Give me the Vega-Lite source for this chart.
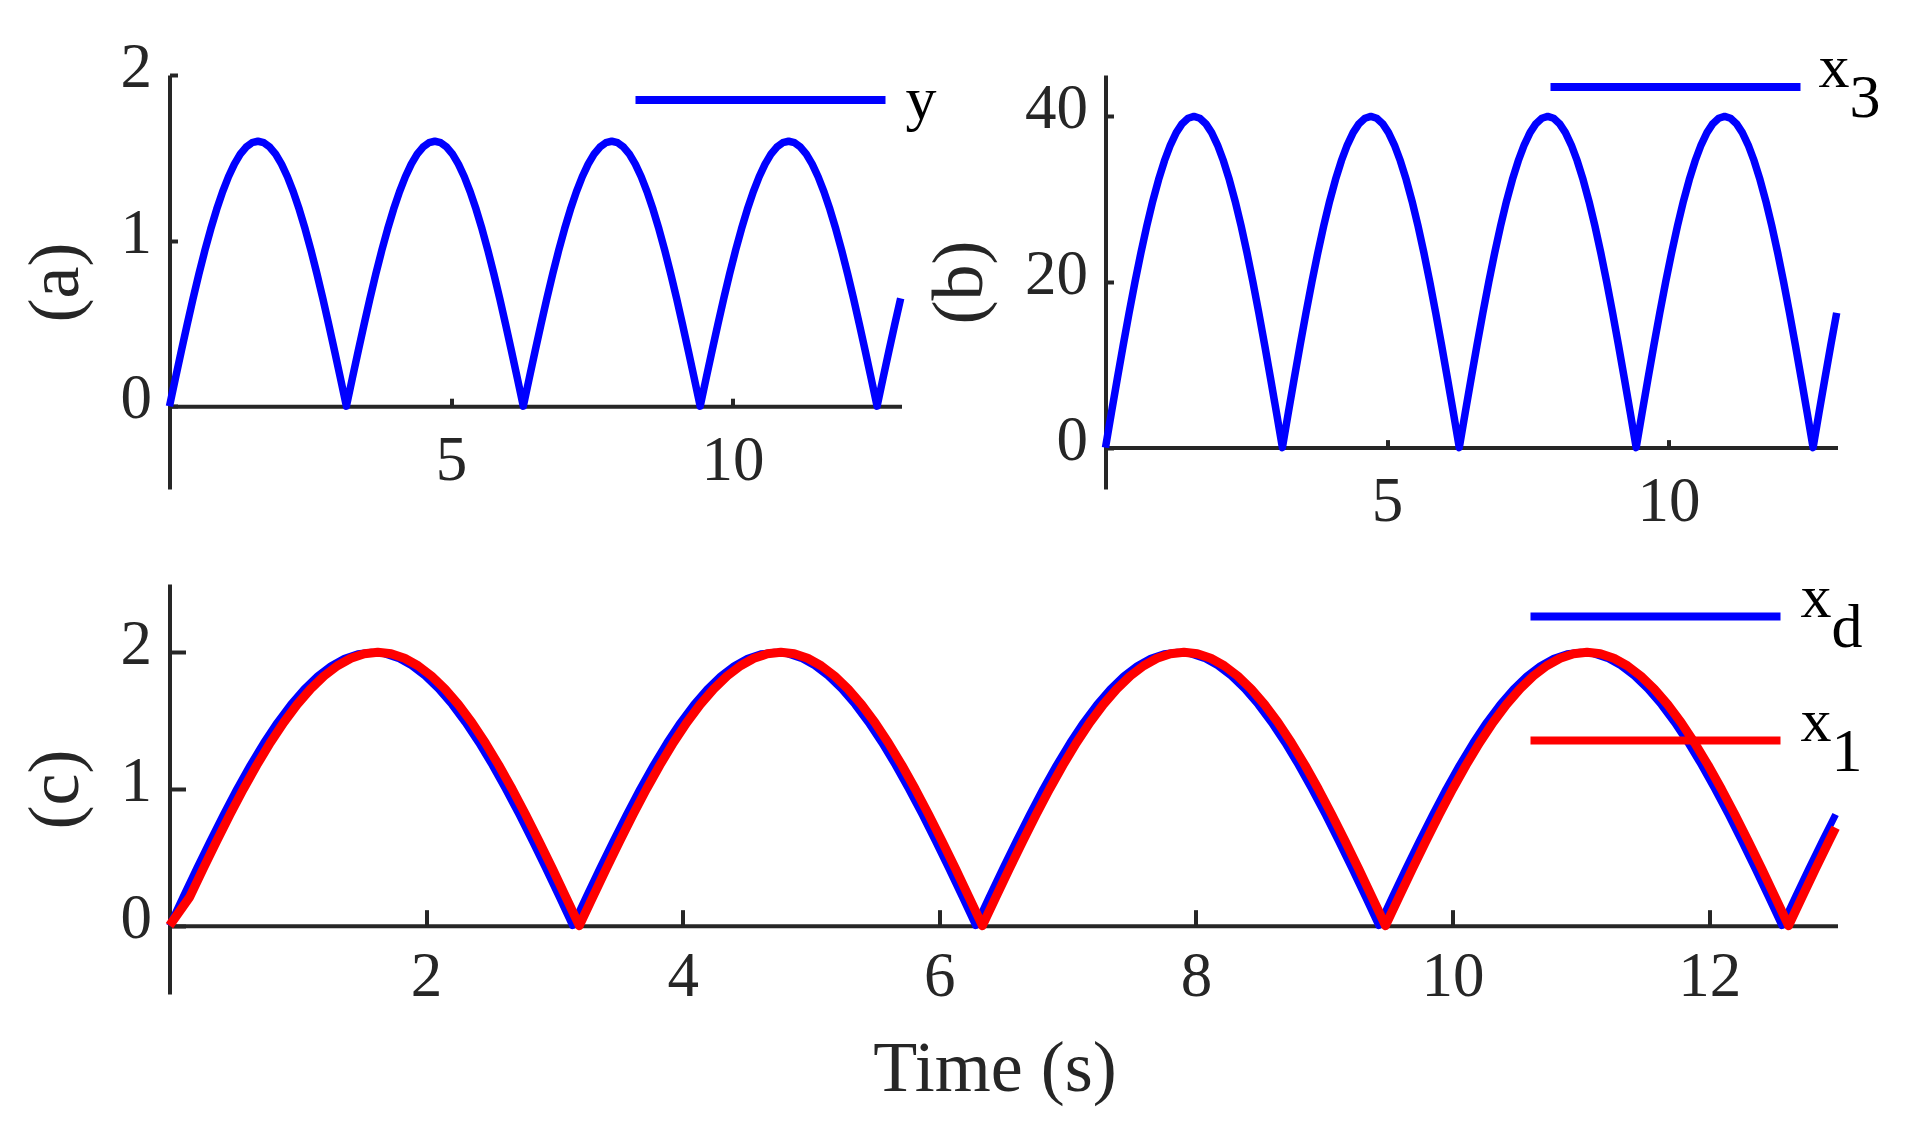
{
"$schema": "https://vega.github.io/schema/vega-lite/v6.json",
"padding": {"left": 18.5, "top": 36, "right": 5, "bottom": 5},
"spacing": 50,
"config": {
  "view": {"stroke": null},
  "font": "Liberation Serif",
  "axis": {"grid": false, "zindex": 0, "format": "d", "domainColor": "#262626", "domainWidth": 4, "tickColor": "#262626", "tickWidth": 4, "labelColor": "#262626", "titleColor": "#262626", "labelFont": "Liberation Serif", "titleFont": "Liberation Serif", "labelFontSize": 63, "titleFontSize": 72, "titleFontWeight": "normal", "labelFlush": false, "labelOverlap": false},
  "legend": {"labelFont": "Liberation Serif", "labelFontSize": 62, "labelColor": "#000000", "padding": 0, "symbolType": "stroke", "symbolSize": 62500, "symbolStrokeWidth": 8, "clipHeight": 64, "orient": "none", "direction": "vertical", "labelLimit": 400, "title": null},
  "style": {"guide-label": {"lineHeight": 30}}
},
"datasets": {
"main": [
{"t":0,"y":0,"x3":0,"xd":0},
{"t":0.1047,"y":0.1672,"x3":4.181,"xd":0.2091},
{"t":0.2094,"y":0.3327,"x3":8.316,"xd":0.4158},
{"t":0.3142,"y":0.4944,"x3":12.361,"xd":0.618},
{"t":0.4189,"y":0.6508,"x3":16.27,"xd":0.8135},
{"t":0.5236,"y":0.8,"x3":20,"xd":1},
{"t":0.6283,"y":0.9405,"x3":23.512,"xd":1.1756},
{"t":0.733,"y":1.0706,"x3":26.765,"xd":1.3383},
{"t":0.8378,"y":1.189,"x3":29.726,"xd":1.4863},
{"t":0.9425,"y":1.2944,"x3":32.361,"xd":1.618},
{"t":1.0472,"y":1.3856,"x3":34.641,"xd":1.7321},
{"t":1.1519,"y":1.4617,"x3":36.542,"xd":1.8271},
{"t":1.2566,"y":1.5217,"x3":38.042,"xd":1.9021},
{"t":1.3614,"y":1.565,"x3":39.126,"xd":1.9563},
{"t":1.4661,"y":1.5912,"x3":39.781,"xd":1.989},
{"t":1.5708,"y":1.6,"x3":40,"xd":2},
{"t":1.6755,"y":1.5912,"x3":39.781,"xd":1.989},
{"t":1.7802,"y":1.565,"x3":39.126,"xd":1.9563},
{"t":1.885,"y":1.5217,"x3":38.042,"xd":1.9021},
{"t":1.9897,"y":1.4617,"x3":36.542,"xd":1.8271},
{"t":2.0944,"y":1.3856,"x3":34.641,"xd":1.7321},
{"t":2.1991,"y":1.2944,"x3":32.361,"xd":1.618},
{"t":2.3038,"y":1.189,"x3":29.726,"xd":1.4863},
{"t":2.4086,"y":1.0706,"x3":26.765,"xd":1.3383},
{"t":2.5133,"y":0.9405,"x3":23.512,"xd":1.1756},
{"t":2.618,"y":0.8,"x3":20,"xd":1},
{"t":2.7227,"y":0.6508,"x3":16.27,"xd":0.8135},
{"t":2.8274,"y":0.4944,"x3":12.361,"xd":0.618},
{"t":2.9322,"y":0.3327,"x3":8.316,"xd":0.4158},
{"t":3.0369,"y":0.1672,"x3":4.181,"xd":0.2091},
{"t":3.1416,"y":0,"x3":0,"xd":0},
{"t":3.2463,"y":0.1672,"x3":4.181,"xd":0.2091},
{"t":3.351,"y":0.3327,"x3":8.316,"xd":0.4158},
{"t":3.4558,"y":0.4944,"x3":12.361,"xd":0.618},
{"t":3.5605,"y":0.6508,"x3":16.27,"xd":0.8135},
{"t":3.6652,"y":0.8,"x3":20,"xd":1},
{"t":3.7699,"y":0.9405,"x3":23.512,"xd":1.1756},
{"t":3.8746,"y":1.0706,"x3":26.765,"xd":1.3383},
{"t":3.9794,"y":1.189,"x3":29.726,"xd":1.4863},
{"t":4.0841,"y":1.2944,"x3":32.361,"xd":1.618},
{"t":4.1888,"y":1.3856,"x3":34.641,"xd":1.7321},
{"t":4.2935,"y":1.4617,"x3":36.542,"xd":1.8271},
{"t":4.3982,"y":1.5217,"x3":38.042,"xd":1.9021},
{"t":4.5029,"y":1.565,"x3":39.126,"xd":1.9563},
{"t":4.6077,"y":1.5912,"x3":39.781,"xd":1.989},
{"t":4.7124,"y":1.6,"x3":40,"xd":2},
{"t":4.8171,"y":1.5912,"x3":39.781,"xd":1.989},
{"t":4.9218,"y":1.565,"x3":39.126,"xd":1.9563},
{"t":5.0265,"y":1.5217,"x3":38.042,"xd":1.9021},
{"t":5.1313,"y":1.4617,"x3":36.542,"xd":1.8271},
{"t":5.236,"y":1.3856,"x3":34.641,"xd":1.7321},
{"t":5.3407,"y":1.2944,"x3":32.361,"xd":1.618},
{"t":5.4454,"y":1.189,"x3":29.726,"xd":1.4863},
{"t":5.5501,"y":1.0706,"x3":26.765,"xd":1.3383},
{"t":5.6549,"y":0.9405,"x3":23.512,"xd":1.1756},
{"t":5.7596,"y":0.8,"x3":20,"xd":1},
{"t":5.8643,"y":0.6508,"x3":16.27,"xd":0.8135},
{"t":5.969,"y":0.4944,"x3":12.361,"xd":0.618},
{"t":6.0737,"y":0.3327,"x3":8.316,"xd":0.4158},
{"t":6.1785,"y":0.1672,"x3":4.181,"xd":0.2091},
{"t":6.2832,"y":0,"x3":0,"xd":0},
{"t":6.3879,"y":0.1672,"x3":4.181,"xd":0.2091},
{"t":6.4926,"y":0.3327,"x3":8.316,"xd":0.4158},
{"t":6.5973,"y":0.4944,"x3":12.361,"xd":0.618},
{"t":6.7021,"y":0.6508,"x3":16.27,"xd":0.8135},
{"t":6.8068,"y":0.8,"x3":20,"xd":1},
{"t":6.9115,"y":0.9405,"x3":23.512,"xd":1.1756},
{"t":7.0162,"y":1.0706,"x3":26.765,"xd":1.3383},
{"t":7.1209,"y":1.189,"x3":29.726,"xd":1.4863},
{"t":7.2257,"y":1.2944,"x3":32.361,"xd":1.618},
{"t":7.3304,"y":1.3856,"x3":34.641,"xd":1.7321},
{"t":7.4351,"y":1.4617,"x3":36.542,"xd":1.8271},
{"t":7.5398,"y":1.5217,"x3":38.042,"xd":1.9021},
{"t":7.6445,"y":1.565,"x3":39.126,"xd":1.9563},
{"t":7.7493,"y":1.5912,"x3":39.781,"xd":1.989},
{"t":7.854,"y":1.6,"x3":40,"xd":2},
{"t":7.9587,"y":1.5912,"x3":39.781,"xd":1.989},
{"t":8.0634,"y":1.565,"x3":39.126,"xd":1.9563},
{"t":8.1681,"y":1.5217,"x3":38.042,"xd":1.9021},
{"t":8.2729,"y":1.4617,"x3":36.542,"xd":1.8271},
{"t":8.3776,"y":1.3856,"x3":34.641,"xd":1.7321},
{"t":8.4823,"y":1.2944,"x3":32.361,"xd":1.618},
{"t":8.587,"y":1.189,"x3":29.726,"xd":1.4863},
{"t":8.6917,"y":1.0706,"x3":26.765,"xd":1.3383},
{"t":8.7965,"y":0.9405,"x3":23.512,"xd":1.1756},
{"t":8.9012,"y":0.8,"x3":20,"xd":1},
{"t":9.0059,"y":0.6508,"x3":16.27,"xd":0.8135},
{"t":9.1106,"y":0.4944,"x3":12.361,"xd":0.618},
{"t":9.2153,"y":0.3327,"x3":8.316,"xd":0.4158},
{"t":9.3201,"y":0.1672,"x3":4.181,"xd":0.2091},
{"t":9.4248,"y":0,"x3":0,"xd":0},
{"t":9.5295,"y":0.1672,"x3":4.181,"xd":0.2091},
{"t":9.6342,"y":0.3327,"x3":8.316,"xd":0.4158},
{"t":9.7389,"y":0.4944,"x3":12.361,"xd":0.618},
{"t":9.8437,"y":0.6508,"x3":16.27,"xd":0.8135},
{"t":9.9484,"y":0.8,"x3":20,"xd":1},
{"t":10.0531,"y":0.9405,"x3":23.512,"xd":1.1756},
{"t":10.1578,"y":1.0706,"x3":26.765,"xd":1.3383},
{"t":10.2625,"y":1.189,"x3":29.726,"xd":1.4863},
{"t":10.3673,"y":1.2944,"x3":32.361,"xd":1.618},
{"t":10.472,"y":1.3856,"x3":34.641,"xd":1.7321},
{"t":10.5767,"y":1.4617,"x3":36.542,"xd":1.8271},
{"t":10.6814,"y":1.5217,"x3":38.042,"xd":1.9021},
{"t":10.7861,"y":1.565,"x3":39.126,"xd":1.9563},
{"t":10.8909,"y":1.5912,"x3":39.781,"xd":1.989},
{"t":10.9956,"y":1.6,"x3":40,"xd":2},
{"t":11.1003,"y":1.5912,"x3":39.781,"xd":1.989},
{"t":11.205,"y":1.565,"x3":39.126,"xd":1.9563},
{"t":11.3097,"y":1.5217,"x3":38.042,"xd":1.9021},
{"t":11.4145,"y":1.4617,"x3":36.542,"xd":1.8271},
{"t":11.5192,"y":1.3856,"x3":34.641,"xd":1.7321},
{"t":11.6239,"y":1.2944,"x3":32.361,"xd":1.618},
{"t":11.7286,"y":1.189,"x3":29.726,"xd":1.4863},
{"t":11.8333,"y":1.0706,"x3":26.765,"xd":1.3383},
{"t":11.9381,"y":0.9405,"x3":23.512,"xd":1.1756},
{"t":12.0428,"y":0.8,"x3":20,"xd":1},
{"t":12.1475,"y":0.6508,"x3":16.27,"xd":0.8135},
{"t":12.2522,"y":0.4944,"x3":12.361,"xd":0.618},
{"t":12.3569,"y":0.3327,"x3":8.316,"xd":0.4158},
{"t":12.4617,"y":0.1672,"x3":4.181,"xd":0.2091},
{"t":12.5664,"y":0,"x3":0,"xd":0},
{"t":12.6711,"y":0.1672,"x3":4.181,"xd":0.2091},
{"t":12.7758,"y":0.3327,"x3":8.316,"xd":0.4158},
{"t":12.8805,"y":0.4944,"x3":12.361,"xd":0.618},
{"t":12.9852,"y":0.6508,"x3":16.27,"xd":0.8135}
],
"track": [
{"t":0,"x1":0},
{"t":0.1571,"x1":0.2091},
{"t":0.2618,"x1":0.4158},
{"t":0.3666,"x1":0.618},
{"t":0.4713,"x1":0.8135},
{"t":0.576,"x1":1},
{"t":0.6807,"x1":1.1756},
{"t":0.7854,"x1":1.3383},
{"t":0.8902,"x1":1.4863},
{"t":0.9949,"x1":1.618},
{"t":1.0996,"x1":1.7321},
{"t":1.2043,"x1":1.8271},
{"t":1.309,"x1":1.9021},
{"t":1.4138,"x1":1.9563},
{"t":1.5185,"x1":1.989},
{"t":1.6232,"x1":2},
{"t":1.7279,"x1":1.989},
{"t":1.8326,"x1":1.9563},
{"t":1.9374,"x1":1.9021},
{"t":2.0421,"x1":1.8271},
{"t":2.1468,"x1":1.7321},
{"t":2.2515,"x1":1.618},
{"t":2.3562,"x1":1.4863},
{"t":2.461,"x1":1.3383},
{"t":2.5657,"x1":1.1756},
{"t":2.6704,"x1":1},
{"t":2.7751,"x1":0.8135},
{"t":2.8798,"x1":0.618},
{"t":2.9846,"x1":0.4158},
{"t":3.0893,"x1":0.2091},
{"t":3.194,"x1":0},
{"t":3.2987,"x1":0.2091},
{"t":3.4034,"x1":0.4158},
{"t":3.5082,"x1":0.618},
{"t":3.6129,"x1":0.8135},
{"t":3.7176,"x1":1},
{"t":3.8223,"x1":1.1756},
{"t":3.927,"x1":1.3383},
{"t":4.0318,"x1":1.4863},
{"t":4.1365,"x1":1.618},
{"t":4.2412,"x1":1.7321},
{"t":4.3459,"x1":1.8271},
{"t":4.4506,"x1":1.9021},
{"t":4.5553,"x1":1.9563},
{"t":4.6601,"x1":1.989},
{"t":4.7648,"x1":2},
{"t":4.8695,"x1":1.989},
{"t":4.9742,"x1":1.9563},
{"t":5.0789,"x1":1.9021},
{"t":5.1837,"x1":1.8271},
{"t":5.2884,"x1":1.7321},
{"t":5.3931,"x1":1.618},
{"t":5.4978,"x1":1.4863},
{"t":5.6025,"x1":1.3383},
{"t":5.7073,"x1":1.1756},
{"t":5.812,"x1":1},
{"t":5.9167,"x1":0.8135},
{"t":6.0214,"x1":0.618},
{"t":6.1261,"x1":0.4158},
{"t":6.2309,"x1":0.2091},
{"t":6.3356,"x1":0},
{"t":6.4403,"x1":0.2091},
{"t":6.545,"x1":0.4158},
{"t":6.6497,"x1":0.618},
{"t":6.7545,"x1":0.8135},
{"t":6.8592,"x1":1},
{"t":6.9639,"x1":1.1756},
{"t":7.0686,"x1":1.3383},
{"t":7.1733,"x1":1.4863},
{"t":7.2781,"x1":1.618},
{"t":7.3828,"x1":1.7321},
{"t":7.4875,"x1":1.8271},
{"t":7.5922,"x1":1.9021},
{"t":7.6969,"x1":1.9563},
{"t":7.8017,"x1":1.989},
{"t":7.9064,"x1":2},
{"t":8.0111,"x1":1.989},
{"t":8.1158,"x1":1.9563},
{"t":8.2205,"x1":1.9021},
{"t":8.3253,"x1":1.8271},
{"t":8.43,"x1":1.7321},
{"t":8.5347,"x1":1.618},
{"t":8.6394,"x1":1.4863},
{"t":8.7441,"x1":1.3383},
{"t":8.8489,"x1":1.1756},
{"t":8.9536,"x1":1},
{"t":9.0583,"x1":0.8135},
{"t":9.163,"x1":0.618},
{"t":9.2677,"x1":0.4158},
{"t":9.3725,"x1":0.2091},
{"t":9.4772,"x1":0},
{"t":9.5819,"x1":0.2091},
{"t":9.6866,"x1":0.4158},
{"t":9.7913,"x1":0.618},
{"t":9.8961,"x1":0.8135},
{"t":10.0008,"x1":1},
{"t":10.1055,"x1":1.1756},
{"t":10.2102,"x1":1.3383},
{"t":10.3149,"x1":1.4863},
{"t":10.4197,"x1":1.618},
{"t":10.5244,"x1":1.7321},
{"t":10.6291,"x1":1.8271},
{"t":10.7338,"x1":1.9021},
{"t":10.8385,"x1":1.9563},
{"t":10.9433,"x1":1.989},
{"t":11.048,"x1":2},
{"t":11.1527,"x1":1.989},
{"t":11.2574,"x1":1.9563},
{"t":11.3621,"x1":1.9021},
{"t":11.4669,"x1":1.8271},
{"t":11.5716,"x1":1.7321},
{"t":11.6763,"x1":1.618},
{"t":11.781,"x1":1.4863},
{"t":11.8857,"x1":1.3383},
{"t":11.9905,"x1":1.1756},
{"t":12.0952,"x1":1},
{"t":12.1999,"x1":0.8135},
{"t":12.3046,"x1":0.618},
{"t":12.4093,"x1":0.4158},
{"t":12.5141,"x1":0.2091},
{"t":12.6188,"x1":0},
{"t":12.7235,"x1":0.2091},
{"t":12.8282,"x1":0.4158},
{"t":12.9329,"x1":0.618},
{"t":12.9852,"x1":0.7167}
]
},
"resolve": {"scale": {"color": "independent"}, "legend": {"color": "independent"}},
"vconcat": [
  {
    "hconcat": [
      {
        "width": 732, "height": 414,
        "data": {"name": "main"},
        "mark": {"type": "line", "strokeWidth": 7.5, "strokeJoin": "round"},
        "encoding": {
          "x": {"field": "t", "type": "quantitative", "scale": {"domain": [0, 13], "nice": false}, "axis": {"values": [5, 10], "offset": -82.8, "tickSize": -8, "labelPadding": 31, "title": null}},
          "y": {"field": "y", "type": "quantitative", "scale": {"domain": [-0.5, 2], "nice": false, "zero": false}, "axis": {"values": [0, 1, 2], "tickSize": -8, "labelPadding": 26, "labelOffset": -7.5, "title": "(a)", "titlePadding": 28}},
          "color": {"datum": "y", "scale": {"domain": ["y"], "range": ["#0000ff"]}, "legend": {"legendX": 462, "legendY": -10, "clipHeight": 70, "labelOffset": 16, "labelBaseline": "middle"}}
        }
      },
      {
        "width": 732, "height": 414,
        "data": {"name": "main"},
        "mark": {"type": "line", "strokeWidth": 7.5, "strokeJoin": "round"},
        "encoding": {
          "x": {"field": "t", "type": "quantitative", "scale": {"domain": [0, 13], "nice": false}, "axis": {"values": [5, 10], "offset": -41.4, "tickSize": -8, "labelPadding": 31, "title": null}},
          "y": {"field": "x3", "type": "quantitative", "scale": {"domain": [-5, 45], "nice": false, "zero": false}, "axis": {"values": [0, 20, 40], "tickSize": -8, "labelPadding": 26, "labelOffset": -7.5, "title": "(b)", "titlePadding": 28}},
          "color": {"datum": "x_3", "scale": {"domain": ["x_3"], "range": ["#0000ff"]}, "legend": {"legendX": 441, "legendY": -20, "labelOffset": 14, "labelBaseline": "alphabetic", "labelExpr": "['x', '\u200b\u00a0\u00a03']"}}
        }
      }
    ],
    "spacing": 204,
    "bounds": "flush",
    "resolve": {"scale": {"color": "independent"}, "legend": {"color": "independent"}}
  },
  {
    "width": 1668, "height": 410,
    "layer": [
      {
        "data": {"name": "main"},
        "mark": {"type": "line", "strokeWidth": 7, "strokeJoin": "round"},
        "encoding": {
          "x": {"field": "t", "type": "quantitative", "scale": {"domain": [0, 13], "nice": false}, "axis": {"values": [2, 4, 6, 8, 10, 12], "offset": -68.33, "tickSize": -16, "labelPadding": 36, "title": "Time (s)", "titlePadding": 25, "titleX": 825}},
          "y": {"field": "xd", "type": "quantitative", "scale": {"domain": [-0.5, 2.5], "nice": false, "zero": false}, "axis": {"values": [0, 1, 2], "tickSize": -16, "labelPadding": 34, "labelOffset": -7.5, "title": "(c)", "titlePadding": 28}},
          "color": {"datum": "x_d", "scale": {"domain": ["x_d", "x_1"], "range": ["#0000ff", "#ff0000"]}, "legend": {"legendX": 1357, "legendY": 0.5, "labelOffset": 16, "rowPadding": 32, "labelBaseline": "alphabetic", "labelExpr": "datum.label == 'x_d' ? ['x', '\u200b\u00a0\u00a0d'] : ['x', '\u200b\u00a0\u00a01']"}}
        }
      },
      {
        "data": {"name": "track"},
        "mark": {"type": "line", "strokeWidth": 9, "strokeJoin": "round"},
        "encoding": {
          "x": {"field": "t", "type": "quantitative"},
          "y": {"field": "x1", "type": "quantitative"},
          "color": {"datum": "x_1"}
        }
      }
    ]
  }
]
}
